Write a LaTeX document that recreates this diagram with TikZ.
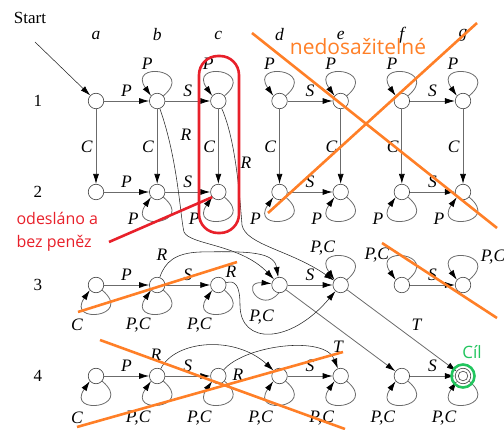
\documentclass[tikz,border=0pt]{standalone}
\usepackage{fontspec}
\setmainfont{Liberation Serif}
\newfontfamily\notefont{Open Sans}
\usetikzlibrary{arrows.meta}
\definecolor{mrkorange}{HTML}{FF7F27}
\definecolor{mrkred}{HTML}{E8202A}
\definecolor{mrkgreen}{HTML}{22C55E}
\definecolor{edgegray}{HTML}{6B6B6B}

\begin{document}
\begin{tikzpicture}[x=1pt, y=1pt,
  st/.style={circle, draw=black!75, line width=0.6pt, minimum size=15.5pt, inner sep=0pt, fill=white},
  tr/.style={draw=edgegray, line width=0.8pt, -{Latex[length=10pt,width=6pt,color=black]}},
  crv/.style={draw=black!85, line width=0.55pt, -{Latex[length=10pt,width=6pt,color=black]}},
  lbl/.style={font=\fontsize{17.5}{17.5}\selectfont\itshape, inner sep=1pt},
  hdr/.style={font=\fontsize{17}{17}\selectfont},
  strike/.style={mrkorange, line width=2.6pt},
  note/.style={font=\notefont\fontsize{16}{23}\selectfont}]

\useasboundingbox (0,0) rectangle (504,429);

% Headers
\node[hdr] (start) at (30,411) {Start};
\foreach \c [count=\i from 0] in {a,b,c,d,e,f,g} {
  \node[lbl] (h\c) at (96+61.17*\i, 394) {\c};
}
\foreach \r/\yy in {1/328,2/237,3/144,4/53} {
  \node[hdr] (row\r) at (38,\yy) {\r};
}

% States (column = store, row = bank)
\foreach \c [count=\i from 0] in {a,b,c,d,e,f,g} {
  \foreach \r/\yy in {1/328,2/237,3/144,4/53} {
    \node[st] (\c\r) at (96+61.17*\i, \yy) {};
  }
}
\draw[black!75, line width=0.6pt] (g4) circle (4.8pt);

\coordinate (s0) at (35,387);
\draw[crv] (s0) -- (a1);

% Straight transitions
\foreach \u/\v/\t in {a1/b1/P, b1/c1/S, d1/e1/S, f1/g1/S, a2/b2/P, b2/c2/S, d2/e2/S, f2/g2/S,
                      a3/b3/P, b3/c3/S, d3/e3/S, f3/g3/S, a4/b4/P, b4/c4/S, d4/e4/S, f4/g4/S} {
  \draw[tr] (\u) -- node[lbl, above=3pt] {\t} (\v);
}
\foreach \c in {a,b,c,d,e,f,g} {
  \draw[tr] (\c1) -- node[lbl, left=2pt] {C} (\c2);
}
\draw[tr] (d3) -- (f4);
\draw[tr] (e3) -- node[lbl, pos=0.55, above right=3pt] {T} (g4);

% Self loops
\foreach \c in {b,c,d,e,f,g} {
  \draw[tr] (\c1.40) .. controls +(40:42) and +(125:42) .. (\c1.140);
  \node[lbl] (p\c1) at ([shift={(-10,37)}]\c1) {P};
  \draw[tr] (\c2.-40) .. controls +(-40:42) and +(-125:42) .. (\c2.-140);
  \node[lbl] (p\c2) at ([shift={(-24,-27)}]\c2) {P};
}
\foreach \c/\t in {a/C, b/{P,C}, c/{P,C}} {
  \draw[tr] (\c3.-40) .. controls +(-40:42) and +(-125:42) .. (\c3.-140);
  \node[lbl] (p\c3) at ([shift={(-19,-40)}]\c3) {\t};
}
\draw[tr] (d3.-95) .. controls +(-130:28) and +(175:32) .. (d3.170);
\node[lbl] (pd3) at ([shift={(-18,-32)}]d3) {P,C};
\foreach \c/\dx/\dy in {e/-18/37, f/-25/30, g/30/28} {
  \draw[tr] (\c3.40) .. controls +(40:42) and +(125:42) .. (\c3.140);
  \node[lbl] (p\c3) at ([shift={(\dx,\dy)}]\c3) {P,C};
}
\foreach \c/\t in {a/C, b/{P,C}, c/{P,C}, d/{P,C}, e/{P,C}, f/{P,C}, g/{P,C}} {
  \draw[tr] (\c4.-40) .. controls +(-40:42) and +(-125:42) .. (\c4.-140);
  \node[lbl] (p\c4) at ([shift={(-19,-42)}]\c4) {\t};
}

% R transitions (curved)
\draw[crv] (b1) .. controls (178,269) and (180,214) .. (184,197) .. controls (190,184) and (240,185) .. (d3);
\node[lbl] (rb1) at (186,294) {R};
\draw[crv] (c1) .. controls (236,289) and (240,229) .. (242,204) .. controls (246,184) and (290,179) .. (e3);
\node[lbl] (rc1) at (246,266) {R};
\draw[crv] (b3) .. controls (165,167) and (175,176) .. (200,177) .. controls (250,178) and (274,177) .. (d3);
\node[lbl] (rb3) at (162,174) {R};
\draw[crv] (c3) .. controls (235,149) and (240,144) .. (240,124) .. controls (240,84) and (290,84) .. (e3);
\node[lbl] (rc3) at (231,157) {R};
\draw[crv] (b4) .. controls (175,89) and (235,94) .. (d4);
\node[lbl] (rb4) at (156,74) {R};
\draw[crv] (c4) .. controls (245,84) and (325,94) .. (e4);
\node[lbl] (rc4) at (238,54) {R};
\node[lbl] (tc4) at (338,82) {T};

% Annotations
\draw[mrkred, line width=2.6pt, rounded corners=19pt] (199,196) rectangle (239,373);
\coordinate (redend) at (109,187);
\draw[mrkred, line width=2.6pt] (c2.220) -- (redend);
\node[note, text=mrkred, anchor=west, align=left] (sent) at (13,197.5) {odesláno a\\bez peněz};

\draw[strike] (252,396) -- (497,201);
\draw[strike] (477,406) -- (268,216);
\node[font=\notefont\fontsize{21}{21}\selectfont, text=mrkorange] (unreach) at (358,382) {nedosažitelné};
\draw[strike] (78,117) -- (237,167);
\draw[strike] (382,186) -- (497,111);
\draw[strike] (100,89) -- (345,0);
\draw[strike] (77,2) -- (343,77);

\draw[mrkgreen, line width=2.6pt] (g4) circle (11.5pt);
\node[font=\notefont\fontsize{17}{17}\selectfont, text=mrkgreen] (goal) at (472,77) {Cíl};

\end{tikzpicture}
\end{document}
